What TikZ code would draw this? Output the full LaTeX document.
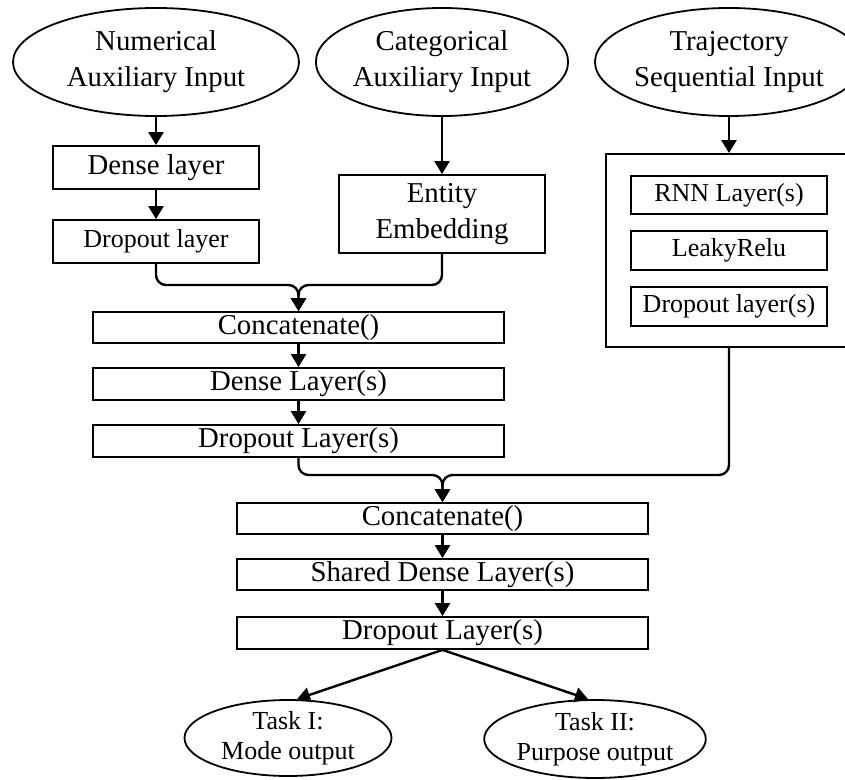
\documentclass[tikz,border=0pt]{standalone}
\usepackage{fontspec}
\setmainfont{Liberation Serif}
\usetikzlibrary{shapes.geometric,arrows.meta,calc}

\tikzset{
  bigtext/.style={font=\fontsize{14.4}{18}\selectfont},
  smalltext/.style={font=\fontsize{13}{15}\selectfont},
  inell/.style={ellipse, draw, line width=0.9pt, inner sep=0pt, align=center},
  layerbox/.style={rectangle, draw, line width=0.9pt, inner sep=0pt, align=center},
  arr/.style={line width=1.2pt, -{Triangle[length=6.5pt,width=7.5pt]}},
  mergearr/.style={arr, rounded corners=5pt},
}

\begin{document}
\begin{tikzpicture}[x=0.5pt, y=-0.5pt]
  \useasboundingbox (0,0) rectangle (845,780);
  \fill[white] (0,0) rectangle (845,780);
  \clip (0,0) rectangle (845,780);

  % inputs
  \node[inell, bigtext, minimum width=143pt, minimum height=54pt] (numin) at (156,62) {Numerical\\Auxiliary Input};
  \node[inell, bigtext, minimum width=123pt, minimum height=54pt] (catin) at (442,62) {Categorical\\Auxiliary Input};
  \node[inell, bigtext, minimum width=124pt, minimum height=54pt] (trajin) at (729,62) {Trajectory\\Sequential Input};

  % numerical branch
  \node[layerbox, bigtext, minimum width=103pt, minimum height=21.5pt] (dense1) at (156,167.5) {Dense layer};
  \node[layerbox, smalltext, minimum width=103pt, minimum height=21.5pt] (drop1) at (156,241.5) {Dropout layer};

  % categorical branch
  \node[layerbox, bigtext, minimum width=103pt, minimum height=39pt] (embed) at (442,214) {Entity\\Embedding};

  % sequential branch
  \node[rectangle, draw, line width=0.9pt, minimum width=123pt, minimum height=96.5pt] (trajbox) at (729,250.5) {};
  \node[layerbox, smalltext, minimum width=98pt, minimum height=19pt] (rnn) at (729,195) {RNN Layer(s)};
  \node[layerbox, smalltext, minimum width=98pt, minimum height=19.5pt] (leaky) at (729,250.5) {LeakyRelu};
  \node[layerbox, smalltext, minimum width=98pt, minimum height=19.5pt] (dropr) at (729,306.5) {Dropout layer(s)};

  % auxiliary stack
  \node[layerbox, bigtext, minimum width=205.5pt, minimum height=15.5pt] (concat1) at (298.5,327.5) {Concatenate()};
  \node[layerbox, bigtext, minimum width=205.5pt, minimum height=16pt] (dense2) at (298.5,384) {Dense Layer(s)};
  \node[layerbox, bigtext, minimum width=205.5pt, minimum height=16pt] (drop2) at (298.5,441) {Dropout Layer(s)};

  % shared stack
  \node[layerbox, bigtext, minimum width=205.5pt, minimum height=15.5pt] (concat2) at (442.5,518.5) {Concatenate()};
  \node[layerbox, bigtext, minimum width=205.5pt, minimum height=15.5pt] (shared) at (442.5,574.5) {Shared Dense Layer(s)};
  \node[layerbox, bigtext, minimum width=205.5pt, minimum height=16pt] (drop3) at (442.5,633) {Dropout Layer(s)};

  % outputs
  \node[inell, smalltext, minimum width=103.5pt, minimum height=38pt] (task1) at (288,738) {Task I:\\Mode output};
  \node[inell, smalltext, minimum width=103pt, minimum height=39pt] (task2) at (595,739) {Task II:\\Purpose output};

  % merge points
  \coordinate (m1) at (298.5,285);
  \coordinate (m2) at (442.5,475);

  % connectors
  \draw[arr] (numin.south) -- (dense1.north);
  \draw[arr] (dense1.south) -- (drop1.north);
  \draw[arr] (catin.south) -- (embed.north);
  \draw[arr] (trajin.south) -- (trajbox.north);

  \draw[mergearr] (drop1.south) |- (m1) -- (concat1.north);
  \draw[mergearr] (embed.south) |- (m1) -- (concat1.north);

  \draw[arr] (concat1.south) -- (dense2.north);
  \draw[arr] (dense2.south) -- (drop2.north);

  \draw[mergearr] (drop2.south) |- (m2) -- (concat2.north);
  \draw[mergearr] (trajbox.south) |- (m2) -- (concat2.north);

  \draw[arr] (concat2.south) -- (shared.north);
  \draw[arr] (shared.south) -- (drop3.north);

  \draw[arr] (drop3.south) -- ($(task1.north)+(9,0)$);
  \draw[arr] (drop3.south) -- ($(task2.north)+(-7,0)$);
\end{tikzpicture}
\end{document}
